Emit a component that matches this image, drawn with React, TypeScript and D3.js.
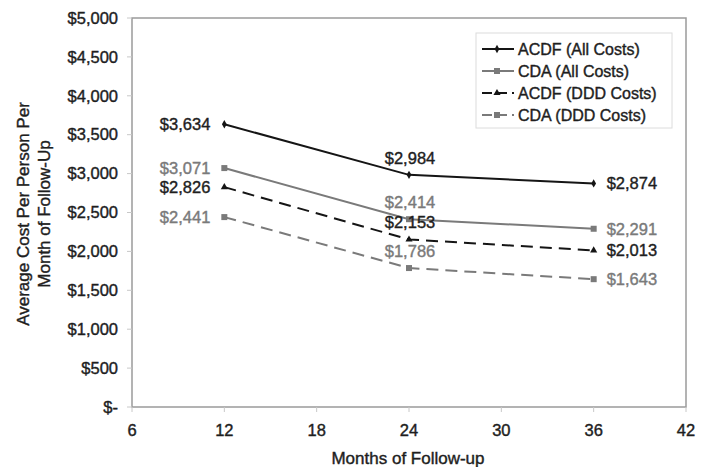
import React from "react";
import * as d3 from "d3";

const months = [12, 24, 36];
const acdfAll = [3634, 2984, 2874];
const cdaAll = [3071, 2414, 2291];
const acdfDDD = [2826, 2153, 2013];
const cdaDDD = [2441, 1786, 1643];
const seriesNames = ["ACDF (All Costs)", "CDA (All Costs)", "ACDF (DDD Costs)", "CDA (DDD Costs)"];
const xTicks = [6, 12, 18, 24, 30, 36, 42];
const yTicks = [0, 500, 1000, 1500, 2000, 2500, 3000, 3500, 4000, 4500, 5000];

const W = 710, H = 467;
const L = 132, R = 686, T = 18, B = 407;
const FONT = "'Liberation Sans', Arial, sans-serif";
const TXT = "#1e1e1e";
const SW = 0.4;

const fmt = (v: number) => (v === 0 ? "$-" : "$" + d3.format(",")(v));

export default function App() {
  const x = d3.scaleLinear().domain([6, 42]).range([L, R]);
  const y = d3.scaleLinear().domain([0, 5000]).range([B, T]);
  const line = d3.line<number>().x((_, i) => x(months[i])).y((d) => y(d));

  const series = [
    { name: seriesNames[0], vals: acdfAll, color: "#151515", dash: "", marker: "diamond", labelColor: TXT },
    { name: seriesNames[1], vals: cdaAll, color: "#7a7a7a", dash: "", marker: "square", labelColor: "#7a7a7a" },
    { name: seriesNames[2], vals: acdfDDD, color: "#151515", dash: "12,7", marker: "triangle", labelColor: TXT },
    { name: seriesNames[3], vals: cdaDDD, color: "#7a7a7a", dash: "12,7", marker: "square", labelColor: "#7a7a7a" },
  ];

  const marker = (m: string, cx: number, cy: number, color: string, key: string) => {
    if (m === "diamond") {
      const s = d3.symbol(d3.symbolDiamond, 20)();
      return <path key={key} d={s as string} transform={`translate(${cx},${cy})`} fill={color} />;
    }
    if (m === "triangle") {
      const s = d3.symbol(d3.symbolTriangle, 22)();
      return <path key={key} d={s as string} transform={`translate(${cx},${cy})`} fill={color} />;
    }
    return <rect key={key} x={cx - 3} y={cy - 3} width={6} height={6} fill={color} />;
  };

  const legX = 476, legY = 33;
  return (
    <svg width={W} height={H} style={{ position: "absolute", left: 0, top: 0, background: "#fff" }} fontFamily={FONT}>
      <rect x={0} y={0} width={W} height={H} fill="#fff" />
      {/* plot frame */}
      <rect x={L} y={T} width={R - L} height={B - T} fill="none" stroke="#9a9a9a" strokeWidth={1.5} />
      {/* y ticks */}
      {yTicks.map((t) => (
        <g key={"y" + t}>
          <line x1={L - 5} x2={L} y1={y(t)} y2={y(t)} stroke="#c8c8c8" />
          <text x={L - 14} y={y(t)} dy="0.35em" textAnchor="end" fontSize={16.5} fill={TXT} stroke={TXT} strokeWidth={SW}>
            {fmt(t)}
          </text>
        </g>
      ))}
      {/* x ticks */}
      {xTicks.map((t) => (
        <g key={"x" + t}>
          <line x1={x(t)} x2={x(t)} y1={B} y2={B + 5} stroke="#c8c8c8" />
          <text x={x(t)} y={B + 23} dy="0.35em" textAnchor="middle" fontSize={16.5} fill={TXT} stroke={TXT} strokeWidth={SW}>
            {t}
          </text>
        </g>
      ))}
      <text x={(L + R) / 2 - 1} y={458} dy="0.35em" textAnchor="middle" fontSize={17} fill={TXT} stroke={TXT} strokeWidth={SW}>
        Months of Follow-up
      </text>
      <text transform={`translate(29,214) rotate(-90)`} textAnchor="middle" fontSize={17} fill={TXT} stroke={TXT} strokeWidth={SW}>
        <tspan x={0} dy={0}>Average Cost Per Person Per</tspan>
        <tspan x={0} dy={21}>Month of Follow-Up</tspan>
      </text>
      {/* series */}
      {series.map((s, si) => (
        <g key={"s" + si}>
          <path d={line(s.vals) as string} fill="none" stroke={s.color} strokeWidth={2} strokeDasharray={s.dash} />
          {s.vals.map((v, i) => marker(s.marker, x(months[i]), y(v), s.color, `m${si}-${i}`))}
        </g>
      ))}
      {series.map((s, si) => (
        <g key={"lab" + si}>
          {s.vals.map((v, i) => {
            const px = x(months[i]);
            const py = y(v);
            const common = { fontSize: 16.5, fill: s.labelColor, stroke: s.labelColor, strokeWidth: SW };
            if (i === 0)
              return (
                <text key={`l${si}-${i}`} x={px - 14} y={py} dy="0.35em" textAnchor="end" {...common}>
                  {fmt(v)}
                </text>
              );
            if (i === 1)
              return (
                <text key={`l${si}-${i}`} x={px + 1} y={py - 11} textAnchor="middle" {...common}>
                  {fmt(v)}
                </text>
              );
            return (
              <text key={`l${si}-${i}`} x={px + 13} y={py} dy="0.35em" textAnchor="start" {...common}>
                {fmt(v)}
              </text>
            );
          })}
        </g>
      ))}
      {/* legend */}
      <rect x={legX} y={legY} width={196} height={95} fill="#fff" stroke="#dcdcdc" />
      {series.map((s, i) => {
        const ly = legY + 16 + i * 22;
        return (
          <g key={"lg" + i}>
            <line x1={legX + 6} x2={legX + 38} y1={ly} y2={ly} stroke={s.color} strokeWidth={2} strokeDasharray={s.dash ? "10,5" : ""} />
            {marker(s.marker, legX + 21, ly, s.color, "lm" + i)}
            <text x={legX + 42} y={ly} dy="0.35em" fontSize={16} fill={TXT} stroke={TXT} strokeWidth={SW}>
              {s.name}
            </text>
          </g>
        );
      })}
    </svg>
  );
}
